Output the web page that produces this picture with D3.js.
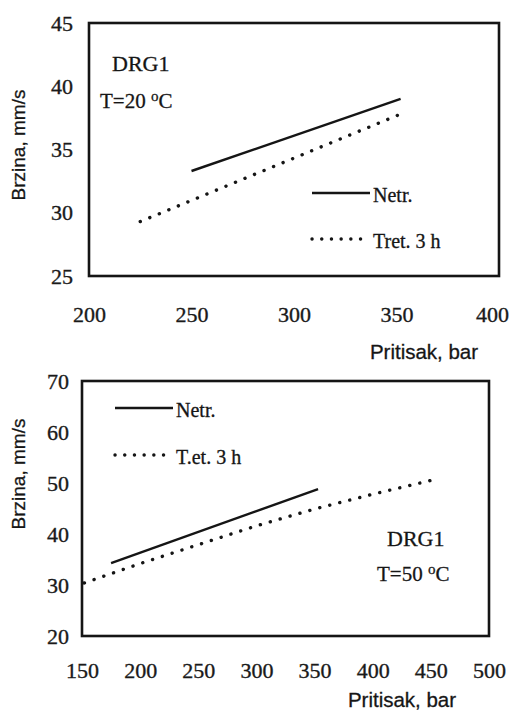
<!DOCTYPE html>
<html>
<head>
<meta charset="utf-8">
<script src="https://cdn.jsdelivr.net/npm/d3@7"></script>
<style>
  html, body { margin: 0; padding: 0; background: #fff; }
  svg { display: block; }
  .tick text { font-family: "Liberation Serif", "Times New Roman", serif; font-size: 22px; fill: #1a1a1a; stroke: #1a1a1a; stroke-width: 0.35px; }
  .lbl { stroke: #1a1a1a; stroke-width: 0.3px; }
</style>
</head>
<body>
<svg id="chart" width="510" height="711"></svg>
<script>
// ---------- Data ----------
// Top chart: T = 20 °C
const xTicks20 = [200, 250, 300, 350, 400];
const yTicks20 = [25, 30, 35, 40, 45];
const netr20P = [250, 352];
const netr20V = [33.3, 39.0];
const tret20P = [225, 352];
const tret20V = [29.3, 37.8];

// Bottom chart: T = 50 °C
const xTicks50 = [150, 200, 250, 300, 350, 400, 450, 500];
const yTicks50 = [20, 30, 40, 50, 60, 70];
const netr50P = [175, 353];
const netr50V = [34.3, 48.8];
const tret50P = [152, 200, 250, 300, 350, 400, 450];
const tret50V = [30.4, 34.2, 37.9, 41.6, 44.9, 47.8, 50.5];

const legendLabels20 = ["Netr.", "Tret. 3 h"];
const legendLabels50 = ["Netr.", "T.et. 3 h"];
const yTitle = "Brzina, mm/s";
const xTitle = "Pritisak, bar";

// ---------- Drawing ----------
const svg = d3.select("#chart");
const W = 510;
const ink = "#151515";
const serif = '"Liberation Serif", "Times New Roman", serif';
const sans = '"Liberation Sans", Arial, sans-serif';

function panel(cfg) {
  const x = d3.scaleLinear().domain(cfg.xDomain).range([cfg.left, cfg.right]);
  const y = d3.scaleLinear().domain(cfg.yDomain).range([cfg.bottom, cfg.top]);
  const g = svg.append("g");

  // axes (labels only)
  const ax = g.append("g").attr("transform", `translate(0,${cfg.bottom})`)
    .call(d3.axisBottom(x).tickValues(cfg.xTicks).tickSize(0).tickPadding(cfg.xPad).tickFormat(d3.format("d")));
  ax.select(".domain").remove();
  // keep edge labels inside the page
  ax.selectAll(".tick text").each(function () {
    const b = this.getBBox();
    const tx = +d3.select(this.parentNode).attr("transform").match(/translate\(([-\d.]+)/)[1];
    const over = tx + b.x + b.width - (W - 1);
    if (over > 0) d3.select(this).attr("x", -over);
  });
  const ay = g.append("g").attr("transform", `translate(${cfg.left},0)`)
    .call(d3.axisLeft(y).tickValues(cfg.yTicks).tickSize(0).tickPadding(cfg.yPad).tickFormat(d3.format("d")));
  ay.select(".domain").remove();

  // frame
  g.append("rect")
    .attr("x", x(cfg.xDomain[0])).attr("y", y(cfg.yDomain[1]))
    .attr("width", x(cfg.xDomain[1]) - x(cfg.xDomain[0]))
    .attr("height", y(cfg.yDomain[0]) - y(cfg.yDomain[1]))
    .attr("fill", "none").attr("stroke", ink).attr("stroke-width", 2.6);

  const line = d3.line().x(d => x(d[0])).y(d => y(d[1]));
  const solid = d3.zip(cfg.netrP, cfg.netrV);
  const dotted = d3.zip(cfg.tretP, cfg.tretV);

  g.append("path").attr("d", line(solid))
    .attr("fill", "none").attr("stroke", ink).attr("stroke-width", 2.4);
  g.append("path").attr("d", line(dotted))
    .attr("fill", "none").attr("stroke", ink).attr("stroke-width", 3.4)
    .attr("stroke-linecap", "round").attr("stroke-dasharray", "0.1,10.2");

  // legend
  const L = cfg.legend;
  g.append("line").attr("x1", L.x1).attr("x2", L.x2).attr("y1", L.y1).attr("y2", L.y1)
    .attr("stroke", ink).attr("stroke-width", 2.4);
  g.append("text").attr("class", "lbl").attr("x", L.x2 + 3).attr("y", L.y1 + 9)
    .attr("font-family", serif).attr("font-size", 20).attr("fill", ink).text(cfg.legendLabels[0]);
  g.append("line").attr("x1", L.x1).attr("x2", L.x2).attr("y1", L.y2).attr("y2", L.y2)
    .attr("stroke", ink).attr("stroke-width", 3.4)
    .attr("stroke-linecap", "round").attr("stroke-dasharray", "0.1,9.6");
  g.append("text").attr("class", "lbl").attr("x", L.x2 + 3).attr("y", L.y2 + 9)
    .attr("font-family", serif).attr("font-size", 20).attr("fill", ink).text(cfg.legendLabels[1]);

  // annotations
  const A = cfg.ann;
  g.append("text").attr("class", "lbl").attr("x", A.x1).attr("y", A.y1)
    .attr("font-family", serif).attr("font-size", 22).attr("fill", ink).text("DRG1");
  const t = g.append("text").attr("class", "lbl").attr("x", A.x2).attr("y", A.y2)
    .attr("font-family", serif).attr("font-size", 21).attr("fill", ink);
  t.append("tspan").text(cfg.tempText + " ");
  t.append("tspan").attr("font-size", 15).attr("dy", -7).text("o");
  t.append("tspan").attr("dy", 7).text("C");

  // axis titles
  g.append("text").attr("class", "lbl")
    .attr("transform", `translate(${cfg.yTitleX},${cfg.yTitleY}) rotate(-90)`)
    .attr("text-anchor", "middle").attr("dy", "0.35em")
    .attr("font-family", sans).attr("font-size", 19).attr("fill", ink).text(yTitle);
  g.append("text").attr("class", "lbl")
    .attr("x", cfg.xTitleX).attr("y", cfg.xTitleY).attr("text-anchor", "middle")
    .attr("font-family", sans).attr("font-size", 20.5).attr("fill", ink).text(xTitle);
}

panel({
  xDomain: [200, 400], yDomain: [25, 45],
  left: 89, right: 499, top: 23, bottom: 276,
  xTicks: xTicks20, yTicks: yTicks20, xPad: 30, yPad: 16,
  netrP: netr20P, netrV: netr20V, tretP: tret20P, tretV: tret20V,
  legend: { x1: 312, x2: 370, y1: 193, y2: 239 },
  legendLabels: legendLabels20,
  ann: { x1: 112, y1: 71, x2: 100, y2: 108 },
  tempText: "T=20",
  yTitleX: 18, yTitleY: 145,
  xTitleX: 424, xTitleY: 359
});

panel({
  xDomain: [150, 500], yDomain: [20, 70],
  left: 82, right: 489, top: 381, bottom: 636,
  xTicks: xTicks50, yTicks: yTicks50, xPad: 26, yPad: 13,
  netrP: netr50P, netrV: netr50V, tretP: tret50P, tretV: tret50V,
  legend: { x1: 115, x2: 173, y1: 408, y2: 455 },
  legendLabels: legendLabels50,
  ann: { x1: 387, y1: 546, x2: 377, y2: 581 },
  tempText: "T=50",
  yTitleX: 18, yTitleY: 474,
  xTitleX: 402, xTitleY: 707
});
</script>
</body>
</html>
